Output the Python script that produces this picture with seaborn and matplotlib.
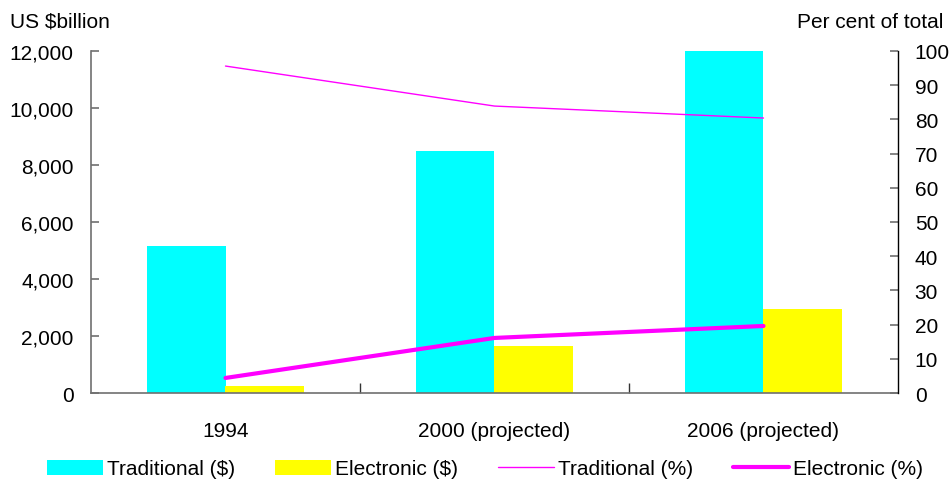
import numpy as np
import pandas as pd
import matplotlib
matplotlib.use("Agg")
import matplotlib.pyplot as plt
from matplotlib.patches import Patch
from matplotlib.lines import Line2D
from matplotlib.ticker import FixedLocator, FuncFormatter
import seaborn as sns

# Payments by type, US $billion and share of total
years = ["1994", "2000 (projected)", "2006 (projected)"]
traditional_usd = [5150, 8500, 12000]
electronic_usd = [250, 1650, 2950]
traditional_pct = [95.6, 83.9, 80.4]
electronic_pct = [4.4, 16.1, 19.6]

CYAN = "#00FFFF"
YELLOW = "#FFFF00"
MAGENTA = "#FF00FF"

sns.set_theme(style="white")
plt.rcParams["font.family"] = ["Liberation Sans", "DejaVu Sans"]
plt.rcParams["text.color"] = "black"
plt.rcParams["xtick.color"] = "black"
plt.rcParams["ytick.color"] = "black"
FS = 15

df = pd.DataFrame({
    "year": years * 2,
    "value": traditional_usd + electronic_usd,
    "series": ["Traditional ($)"] * len(years) + ["Electronic ($)"] * len(years),
})

fig = plt.figure(figsize=(9.53, 4.81), dpi=100)
ax = fig.add_axes([91 / 953, 1 - 394 / 481, (898 - 91) / 953, (394 - 52) / 481])

sns.barplot(data=df, x="year", y="value", hue="series", order=years,
            palette=[CYAN, YELLOW], width=0.58, dodge=True, saturation=1,
            edgecolor="none", linewidth=0, ax=ax, legend=False)

ax.set_xlim(-0.5, len(years) - 0.5)
ax.set_ylim(0, 12000)
ax.set_yticks(np.arange(0, 12001, 2000))
ax.yaxis.set_major_formatter(FuncFormatter(lambda v, p: f"{int(v):,}"))
ax.set_xlabel("")
ax.set_ylabel("")

# Secondary axis: shares of total
ax2 = ax.twinx()
xpos = np.arange(len(years))
sns.lineplot(x=xpos, y=traditional_pct, color=MAGENTA, linewidth=1.0, ax=ax2)
sns.lineplot(x=xpos, y=electronic_pct, color=MAGENTA, linewidth=3.0, ax=ax2)
ax2.set_ylim(0, 100)
ax2.set_yticks(np.arange(0, 101, 10))
ax2.set_xlim(-0.5, len(years) - 0.5)

# Spines and ticks
for a in (ax, ax2):
    for s in a.spines.values():
        s.set_visible(False)
ax.spines["left"].set_visible(True)
ax.spines["left"].set_color("#707070")
ax.spines["left"].set_linewidth(1.2)
ax.spines["bottom"].set_visible(True)
ax.spines["bottom"].set_color("#707070")
ax.spines["bottom"].set_linewidth(1.2)
ax2.spines["right"].set_visible(True)
ax2.spines["right"].set_color("black")
ax2.spines["right"].set_linewidth(1.0)

ax.tick_params(axis="y", direction="in", length=6, width=1.2, color="#707070",
               labelsize=FS, pad=12.5, left=True, labelcolor="black")
ax2.tick_params(axis="y", direction="in", length=6, width=1.2, color="#707070",
                labelsize=FS, pad=12, right=True, labelcolor="black")
ax.tick_params(axis="x", which="major", length=0, labelsize=FS, pad=20,
               labelcolor="black")
ax.xaxis.set_minor_locator(FixedLocator(np.arange(0.5, len(years) - 1, 1.0)))
ax.tick_params(axis="x", which="minor", direction="in", length=7, width=1,
               color="#333333", bottom=True)

fig.text(10 / 953, 1 - 22 / 481, "US $billion", fontsize=FS, ha="left",
         va="center", color="black")
fig.text(943 / 953, 1 - 22 / 481, "Per cent of total", fontsize=FS, ha="right",
         va="center", color="black")

handles = [
    Patch(facecolor=CYAN, edgecolor="none"),
    Patch(facecolor=YELLOW, edgecolor="none"),
    Line2D([], [], color=MAGENTA, linewidth=1.0),
    Line2D([], [], color=MAGENTA, linewidth=3.0),
]
labels = ["Traditional ($)", "Electronic ($)", "Traditional (%)", "Electronic (%)"]
leg = fig.legend(handles, labels, loc="center", bbox_to_anchor=(485 / 953, 1 - 470 / 481),
                 ncol=4, frameon=False, fontsize=FS, handlelength=2.7, handleheight=0.72,
                 handletextpad=0.2, columnspacing=1.9, borderaxespad=0, borderpad=0)
for t in leg.get_texts():
    t.set_color("black")

fig.savefig("out.png", dpi=100)
